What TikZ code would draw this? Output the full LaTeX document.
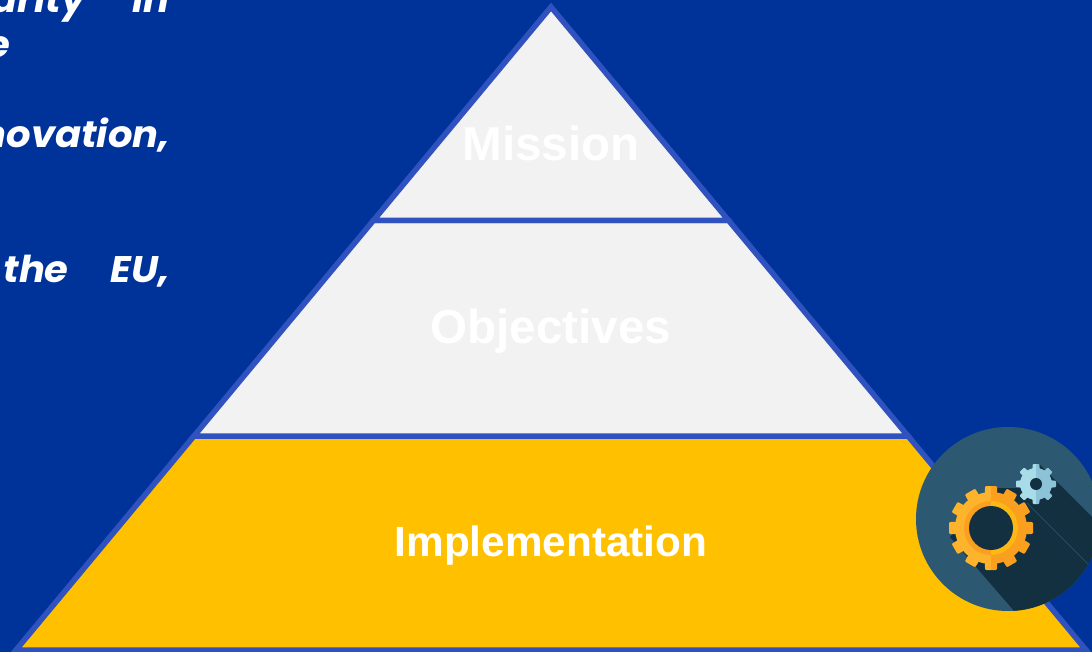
\documentclass[tikz,border=0pt]{standalone}
\usepackage{fontspec}
\setmainfont{Liberation Sans}
\newfontfamily\slidefont[FakeStretch=1.04]{Poppins}
\definecolor{slideblue}{HTML}{00339A}
\definecolor{edgeblue}{HTML}{2F52BF}
\definecolor{palegray}{HTML}{F2F2F2}
\definecolor{baseyellow}{HTML}{FFC000}
\definecolor{iconblue}{HTML}{2C5871}
\definecolor{icondark}{HTML}{12303F}
\definecolor{gearlight}{HTML}{FDB32B}
\definecolor{geardark}{HTML}{FB9F1F}
\definecolor{ringyellow}{HTML}{FDB813}
\definecolor{coglight}{HTML}{A8DCE9}
\definecolor{cogdark}{HTML}{8CC3D6}
\tikzset{
  layer/.style={draw=edgeblue,line width=5.5pt,line join=miter},
  tier/.style={font=\bfseries\fontsize{47.6}{47.6}\selectfont,text=white,inner sep=0pt},
  sidetext/.style={font=\slidefont\bfseries\itshape\fontsize{37}{37}\selectfont,text=white,inner sep=0pt,anchor=base east}
}
% wheel: centre, body radius, tooth radius, tooth half width, angle step
\newcommand{\gearwheel}[5]{
  \fill (#1) circle (#2);
  \foreach \a in {0,#5,...,359}
    \fill[shift={(#1)},rotate=\a,rounded corners=1pt] (-#4,0) -- (-#4*0.85,#3) -- (#4*0.85,#3) -- (#4,0) -- cycle;
}
\begin{document}
\begin{tikzpicture}[x=1pt,y=-1pt]
          \useasboundingbox (0,0) rectangle (1092,652);
          \fill[slideblue] (0,0) rectangle (1092,652);
          \clip (0,0) rectangle (1092,652);
          \coordinate (p1) at (551,7);
          \coordinate (p2) at (373.4,220.5);
          \coordinate (p3) at (728.6,220.5);
          \coordinate (p4) at (194,436);
          \coordinate (p5) at (908,436);
          \coordinate (p6) at (16,650);
          \coordinate (p7) at (1086,650);
          \coordinate (c1) at (1008,519);
          \coordinate (c2) at (991,528);
          \coordinate (c3) at (1036,484);
          \draw[layer,fill=baseyellow] (p4) -- (p5) -- (p7) -- (p6) -- cycle;
          \draw[layer,fill=palegray] (p2) -- (p3) -- (p5) -- (p4) -- cycle;
          \draw[layer,fill=palegray] (p1) -- (p3) -- (p2) -- cycle;
          \node[tier] (mission) at (551,143) {Mission};
          \node[tier] (objectives) at (551,331) {Objectives};
          \node[tier,font=\bfseries\fontsize{42.3}{42.3}\selectfont] (implementation) at (551,546) {Implementation};
          \node[sidetext] (line1) at (170,13) {urity\hspace{47pt}in};
          \node[sidetext] (line2) at (10,58) {e};
          \node[sidetext] (line3) at (170,148) {novation,};
          \node[sidetext] (line4) at (170,283) {the\hspace{42pt}EU,};
          % icon disc with long shadows
          \fill[iconblue] (c1) circle (92);
          \begin{scope}
            \clip (c1) circle (92);
            \fill[icondark] (950,537) -- (1015,612) -- (1110,612) -- (1110,535) -- (1040,465) -- (1017,488) -- (997,488) -- cycle;
            \draw[iconblue,line width=0.6pt] (1027,503) -- (1092,568);
          \end{scope}
          \begin{scope}
            \clip (900,420) rectangle (991,640);
            \begin{scope}[gearlight]
              \gearwheel{c2}{36}{42}{7}{30}
            \end{scope}
            \fill[geardark] (c2) circle (27);
          \end{scope}
          \begin{scope}
            \clip (991,420) rectangle (1092,640);
            \begin{scope}[geardark]
              \gearwheel{c2}{36}{42}{7}{30}
            \end{scope}
            \fill[ringyellow] (c2) circle (27);
          \end{scope}
          \fill[icondark] (c2) circle (22);
          \begin{scope}
            \clip (1000,450) rectangle (1036,520);
            \begin{scope}[coglight]
              \gearwheel{c3}{16}{20}{4}{45}
            \end{scope}
          \end{scope}
          \begin{scope}
            \clip (1036,450) rectangle (1080,520);
            \begin{scope}[cogdark]
              \gearwheel{c3}{16}{20}{4}{45}
            \end{scope}
          \end{scope}
          \fill[icondark] (c3) circle (6);
        \end{tikzpicture}
\end{document}
